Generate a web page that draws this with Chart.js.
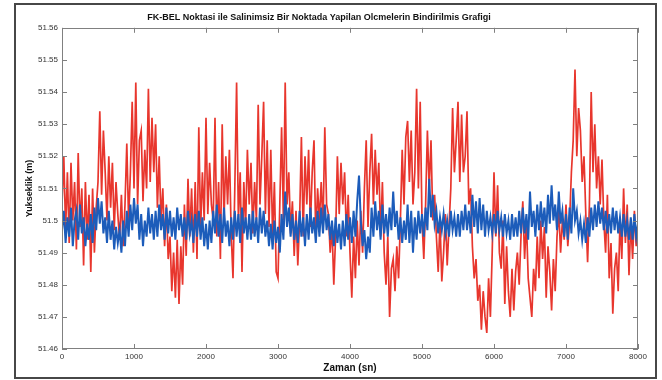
<!DOCTYPE html>
<html>
<head>
<meta charset="utf-8">
<script src="https://cdn.jsdelivr.net/npm/chart.js@4.4.1/dist/chart.umd.min.js"></script>
<style>
	html, body { margin: 0; padding: 0; background: #fff; }
	#wrap { position: relative; width: 662px; height: 380px; }
	#frame {
		position: absolute; left: 14px; top: 3px; width: 643px; height: 376px;
		box-sizing: border-box; border: 2px solid #474747; pointer-events: none;
	}
</style>
</head>
<body>
<div id="wrap">
	<canvas id="chart" width="662" height="380"></canvas>
	<div id="frame"></div>
</div>
<script>
// sampling interval of both records (sn)
const sampleStep = 25;

// FK-BEL point heights (m), one value every 25 sn
const fkBel = [
	51.505, 51.520, 51.497, 51.515, 51.493, 51.518, 51.500, 51.512, 51.491, 51.521, 51.498, 51.510, 51.486, 51.512, 51.494, 51.508, 51.484, 51.510, 51.490, 51.504,
	51.512, 51.534, 51.508, 51.528, 51.515, 51.500, 51.520, 51.504, 51.518, 51.497, 51.512, 51.502, 51.494, 51.508, 51.492, 51.505, 51.524, 51.500, 51.515, 51.537,
	51.510, 51.543, 51.505, 51.525, 51.528, 51.506, 51.522, 51.510, 51.541, 51.512, 51.532, 51.515, 51.530, 51.504, 51.520, 51.500, 51.510, 51.492, 51.505, 51.488,
	51.495, 51.478, 51.490, 51.476, 51.494, 51.474, 51.492, 51.480, 51.505, 51.489, 51.513, 51.495, 51.510, 51.490, 51.512, 51.488, 51.529, 51.497, 51.515, 51.500,
	51.532, 51.502, 51.518, 51.505, 51.500, 51.532, 51.495, 51.512, 51.488, 51.530, 51.500, 51.520, 51.505, 51.522, 51.496, 51.482, 51.510, 51.543, 51.500, 51.515,
	51.484, 51.512, 51.498, 51.522, 51.505, 51.518, 51.496, 51.512, 51.500, 51.536, 51.505, 51.520, 51.537, 51.502, 51.525, 51.498, 51.522, 51.495, 51.512, 51.484,
	51.482, 51.505, 51.529, 51.500, 51.543, 51.505, 51.515, 51.496, 51.506, 51.489, 51.503, 51.486, 51.500, 51.526, 51.495, 51.520, 51.505, 51.522, 51.498, 51.515,
	51.525, 51.494, 51.510, 51.500, 51.512, 51.498, 51.529, 51.505, 51.502, 51.490, 51.498, 51.480, 51.495, 51.520, 51.502, 51.518, 51.505, 51.515, 51.495, 51.508,
	51.490, 51.476, 51.495, 51.482, 51.500, 51.486, 51.503, 51.490, 51.510, 51.525, 51.498, 51.515, 51.527, 51.505, 51.522, 51.508, 51.518, 51.495, 51.512, 51.490,
	51.480, 51.495, 51.470, 51.485, 51.488, 51.478, 51.492, 51.482, 51.500, 51.522, 51.505, 51.526, 51.531, 51.512, 51.528, 51.505, 51.515, 51.541, 51.510, 51.537,
	51.500, 51.488, 51.505, 51.528, 51.510, 51.525, 51.500, 51.508, 51.495, 51.484, 51.500, 51.481, 51.490, 51.502, 51.486, 51.498, 51.510, 51.535, 51.515, 51.525,
	51.537, 51.512, 51.533, 51.515, 51.520, 51.534, 51.505, 51.510, 51.492, 51.482, 51.488, 51.475, 51.480, 51.466, 51.478, 51.470, 51.465, 51.482, 51.470, 51.490,
	51.515, 51.495, 51.511, 51.490, 51.485, 51.500, 51.474, 51.492, 51.478, 51.470, 51.485, 51.472, 51.484, 51.490, 51.480, 51.495, 51.506, 51.488, 51.500, 51.482,
	51.476, 51.470, 51.485, 51.478, 51.495, 51.482, 51.500, 51.488, 51.498, 51.476, 51.492, 51.484, 51.472, 51.488, 51.478, 51.495, 51.503, 51.490, 51.500, 51.494,
	51.505, 51.492, 51.500, 51.515, 51.525, 51.547, 51.520, 51.535, 51.528, 51.512, 51.520, 51.502, 51.487, 51.505, 51.540, 51.515, 51.530, 51.510, 51.520, 51.505,
	51.519, 51.500, 51.490, 51.508, 51.482, 51.493, 51.471, 51.485, 51.490, 51.478, 51.500, 51.488, 51.510, 51.493, 51.505, 51.483, 51.500, 51.488, 51.503, 51.492,
	51.497
];

// fixed (non-oscillating) point heights (m), one value every 25 sn
const fixedPoint = [
	51.497, 51.503, 51.493, 51.501, 51.495, 51.504, 51.492, 51.500, 51.503, 51.494, 51.505, 51.496, 51.501, 51.492, 51.499, 51.494, 51.502, 51.493, 51.504, 51.497,
	51.507, 51.499, 51.506, 51.496, 51.501, 51.493, 51.503, 51.494, 51.500, 51.491, 51.498, 51.493, 51.497, 51.490, 51.500, 51.492, 51.503, 51.495, 51.505, 51.497,
	51.507, 51.499, 51.505, 51.494, 51.502, 51.492, 51.500, 51.495, 51.504, 51.496, 51.502, 51.494, 51.503, 51.495, 51.505, 51.497, 51.502, 51.494, 51.504, 51.496,
	51.503, 51.495, 51.501, 51.494, 51.504, 51.497, 51.502, 51.495, 51.501, 51.494, 51.503, 51.496, 51.500, 51.493, 51.502, 51.495, 51.503, 51.494, 51.501, 51.492,
	51.499, 51.491, 51.500, 51.493, 51.503, 51.496, 51.505, 51.495, 51.502, 51.493, 51.504, 51.495, 51.500, 51.492, 51.501, 51.494, 51.503, 51.495, 51.502, 51.493,
	51.504, 51.496, 51.501, 51.494, 51.502, 51.494, 51.503, 51.495, 51.501, 51.493, 51.504, 51.496, 51.503, 51.495, 51.500, 51.492, 51.499, 51.491, 51.500, 51.493,
	51.498, 51.490, 51.502, 51.494, 51.509, 51.498, 51.504, 51.495, 51.502, 51.494, 51.500, 51.493, 51.503, 51.495, 51.501, 51.492, 51.502, 51.494, 51.504, 51.496,
	51.501, 51.493, 51.503, 51.495, 51.504, 51.496, 51.505, 51.497, 51.502, 51.494, 51.500, 51.492, 51.501, 51.493, 51.499, 51.491, 51.500, 51.492, 51.502, 51.494,
	51.501, 51.493, 51.503, 51.495, 51.506, 51.514, 51.500, 51.492, 51.497, 51.488, 51.495, 51.490, 51.504, 51.495, 51.506, 51.497, 51.503, 51.494, 51.505, 51.496,
	51.502, 51.495, 51.504, 51.497, 51.509, 51.498, 51.503, 51.494, 51.501, 51.493, 51.500, 51.494, 51.505, 51.493, 51.503, 51.490, 51.501, 51.494, 51.503, 51.496,
	51.502, 51.495, 51.504, 51.497, 51.513, 51.501, 51.508, 51.499, 51.503, 51.496, 51.501, 51.497, 51.502, 51.496, 51.500, 51.495, 51.503, 51.497, 51.501, 51.495,
	51.502, 51.495, 51.503, 51.497, 51.505, 51.497, 51.503, 51.496, 51.508, 51.498, 51.506, 51.496, 51.507, 51.497, 51.505, 51.495, 51.503, 51.497, 51.501, 51.496,
	51.502, 51.496, 51.503, 51.497, 51.501, 51.495, 51.502, 51.496, 51.500, 51.494, 51.502, 51.495, 51.501, 51.495, 51.503, 51.496, 51.504, 51.496, 51.502, 51.494,
	51.509, 51.498, 51.503, 51.495, 51.505, 51.497, 51.506, 51.498, 51.504, 51.496, 51.508, 51.499, 51.511, 51.500, 51.505, 51.497, 51.509, 51.499, 51.503, 51.495,
	51.502, 51.494, 51.504, 51.496, 51.510, 51.500, 51.503, 51.496, 51.500, 51.494, 51.499, 51.493, 51.501, 51.495, 51.504, 51.497, 51.505, 51.498, 51.506, 51.499,
	51.504, 51.497, 51.503, 51.496, 51.502, 51.496, 51.504, 51.497, 51.503, 51.496, 51.501, 51.495, 51.502, 51.495, 51.500, 51.494, 51.501, 51.494, 51.502, 51.495,
	51.499
];

const xTickValues = [0, 1000, 2000, 3000, 4000, 5000, 6000, 7000, 8000];
const yTickValues = [51.46, 51.47, 51.48, 51.49, 51.50, 51.51, 51.52, 51.53, 51.54, 51.55, 51.56];
const yTickLabels = ['51.46', '51.47', '51.48', '51.49', '51.5', '51.51', '51.52', '51.53', '51.54', '51.55', '51.56'];

const toPoints = values => values.map((v, i) => ({ x: i * sampleStep, y: v }));

// matlab style box with inward ticks on all four sides
const boxAxes = {
	id: 'boxAxes',
	afterDraw(chart) {
		const { ctx, chartArea: a, scales: { x, y } } = chart;
		ctx.save();
		ctx.strokeStyle = '#808080';
		ctx.lineWidth = 1;
		ctx.strokeRect(Math.round(a.left) + 0.5, Math.round(a.top) + 0.5, Math.round(a.width) - 1, Math.round(a.height) - 1);
		ctx.beginPath();
		xTickValues.forEach(v => {
			const px = Math.round(x.getPixelForValue(v)) + 0.5;
			ctx.moveTo(px, a.bottom); ctx.lineTo(px, a.bottom - 5);
			ctx.moveTo(px, a.top); ctx.lineTo(px, a.top + 5);
		});
		yTickValues.forEach(v => {
			const py = Math.round(y.getPixelForValue(v)) + 0.5;
			ctx.moveTo(a.left, py); ctx.lineTo(a.left + 5, py);
			ctx.moveTo(a.right, py); ctx.lineTo(a.right - 5, py);
		});
		ctx.stroke();
		ctx.restore();
	}
};

const tickFont = { family: "'Liberation Sans', Arial, sans-serif", size: 8 };

new Chart(document.querySelector('#chart').getContext('2d'), {
	type: 'line',
	data: {
		datasets: [
			{
				label: 'Salinimsiz nokta',
				data: toPoints(fixedPoint),
				borderColor: '#1c5cba',
				borderWidth: 2,
				pointRadius: 0,
				tension: 0
			},
			{
				label: 'FK-BEL',
				data: toPoints(fkBel),
				borderColor: '#e8362d',
				borderWidth: 1.7,
				pointRadius: 0,
				tension: 0
			}
		]
	},
	options: {
		responsive: false,
		animation: false,
		layout: { padding: { left: 0, right: 24, top: 0, bottom: 0 } },
		plugins: {
			legend: { display: false },
			tooltip: { enabled: false },
			title: {
				display: true,
				text: 'FK-BEL Noktasi ile Salinimsiz Bir Noktada Yapilan Olcmelerin Bindirilmis Grafigi',
				color: '#111',
				font: { family: "'Liberation Sans', Arial, sans-serif", size: 9, weight: 'bold' },
				padding: { top: 12, bottom: 5 }
			}
		},
		scales: {
			x: {
				type: 'linear',
				min: 0,
				max: 8000,
				afterBuildTicks: s => { s.ticks = xTickValues.map(v => ({ value: v })); },
				afterFit: s => { s.height = 31; },
				grid: { display: false, drawTicks: false },
				border: { display: false },
				ticks: { color: '#333', font: tickFont, padding: 3, maxRotation: 0, autoSkip: false, callback: v => String(v) },
				title: {
					display: true,
					text: 'Zaman (sn)',
					color: '#111',
					font: { family: "'Liberation Sans', Arial, sans-serif", size: 10, weight: 'bold' },
					padding: { top: 0, bottom: 6 }
				}
			},
			y: {
				type: 'linear',
				min: 51.46,
				max: 51.56,
				afterBuildTicks: s => { s.ticks = yTickValues.map(v => ({ value: v })); },
				afterFit: s => { s.width = 62; },
				grid: { display: false, drawTicks: false },
				border: { display: false },
				ticks: {
					color: '#333', font: tickFont, padding: 4, autoSkip: false,
					callback: (v, i) => yTickLabels[i]
				},
				title: {
					display: true,
					text: 'Yukseklik (m)',
					color: '#111',
					font: { family: "'Liberation Sans', Arial, sans-serif", size: 9, weight: 'bold' },
					padding: { top: 24, bottom: 0 }
				}
			}
		}
	},
	plugins: [boxAxes]
});
</script>
</body>
</html>
